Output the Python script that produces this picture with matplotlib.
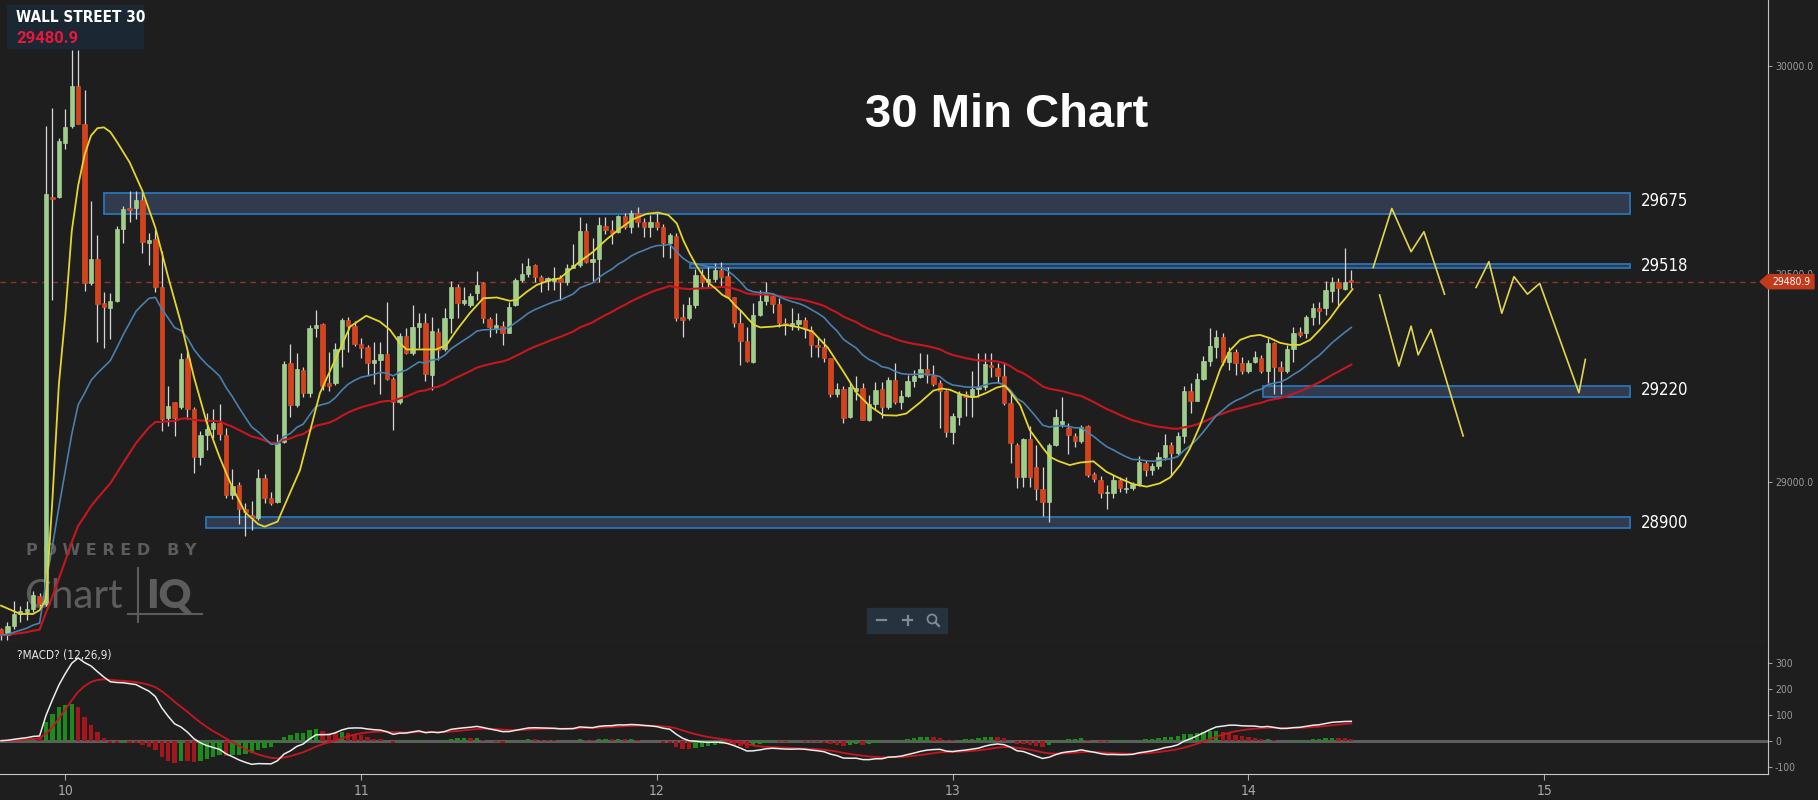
import numpy as np
import pandas as pd
import matplotlib
matplotlib.use("Agg")
import matplotlib.pyplot as plt
from matplotlib.patches import Rectangle, Polygon, Circle
from matplotlib.lines import Line2D
from matplotlib import transforms

W, H = 1818, 800
BG = '#1e1e1e'
plt.rcParams['font.family'] = ['DejaVu Sans']
plt.rcParams['font.stretch'] = 'condensed'

# 30 min candles
opens = [28645, 28631, 28654, 28682, 28686, 28694, 28726, 28705, 29685, 29685,
         29815, 29855, 29952, 29861, 29478, 29535, 29429, 29418, 29434, 29608,
         29658, 29659, 29677, 29574, 29583, 29468, 29154, 29192, 29179, 29298,
         29176, 29059, 29112, 29126, 29142, 29112, 28967, 28993, 28935, 28921,
         28912, 29008, 28960, 28951, 29096, 29285, 29184, 29269, 29214, 29369,
         29379, 29238, 29238, 29318, 29389, 29374, 29331, 29325, 29286, 29293,
         29307, 29246, 29192, 29350, 29310, 29371, 29381, 29256, 29361, 29318,
         29393, 29467, 29429, 29425, 29453, 29477, 29391, 29370, 29374, 29358,
         29425, 29485, 29499, 29520, 29491, 29483, 29483, 29489, 29481, 29515,
         29520, 29603, 29529, 29535, 29615, 29605, 29601, 29639, 29613, 29647,
         29624, 29612, 29624, 29613, 29573, 29591, 29397, 29393, 29426, 29497,
         29479, 29487, 29509, 29495, 29443, 29382, 29339, 29289, 29402, 29434,
         29446, 29427, 29381, 29374, 29379, 29390, 29365, 29329, 29323, 29297,
         29211, 29222, 29155, 29219, 29225, 29148, 29187, 29222, 29179, 29245,
         29191, 29206, 29243, 29251, 29270, 29254, 29237, 29219, 29120, 29156,
         29211, 29204, 29222, 29227, 29281, 29273, 29253, 29189, 29088, 29011,
         29102, 29036, 28982, 28952, 29088, 29139, 29128, 29110, 29099, 29134,
         29019, 29004, 28972, 28974, 29004, 28982, 28986, 28994, 29046, 29027,
         29038, 29060, 29088, 29068, 29110, 29219, 29195, 29246, 29290, 29325,
         29347, 29289, 29313, 29285, 29267, 29289, 29298, 29265, 29334, 29277,
         29265, 29318, 29361, 29357, 29397, 29417, 29417, 29459, 29481, 29463,
         29483]
highs = [28649, 28663, 28714, 28700, 28714, 28737, 28732, 29855, 29898, 29827,
         29895, 30039, 30039, 29942, 29674, 29593, 29455, 29453, 29616, 29664,
         29699, 29699, 29694, 29597, 29604, 29554, 29229, 29192, 29309, 29317,
         29179, 29123, 29165, 29174, 29188, 29128, 29031, 28999, 28949, 28953,
         29031, 29018, 28976, 29114, 29291, 29331, 29310, 29277, 29377, 29414,
         29381, 29313, 29334, 29393, 29397, 29386, 29345, 29329, 29337, 29337,
         29433, 29252, 29357, 29369, 29425, 29405, 29405, 29397, 29369, 29417,
         29483, 29475, 29469, 29453, 29507, 29479, 29395, 29406, 29387, 29431,
         29489, 29527, 29537, 29524, 29497, 29492, 29516, 29497, 29524, 29572,
         29637, 29621, 29587, 29637, 29637, 29629, 29641, 29647, 29653, 29661,
         29633, 29641, 29645, 29620, 29599, 29599, 29427, 29445, 29511, 29511,
         29519, 29525, 29529, 29517, 29445, 29413, 29373, 29429, 29461, 29481,
         29453, 29441, 29393, 29417, 29405, 29397, 29374, 29345, 29345, 29297,
         29237, 29229, 29237, 29253, 29237, 29209, 29240, 29240, 29251, 29285,
         29221, 29257, 29269, 29310, 29307, 29281, 29245, 29221, 29164, 29219,
         29217, 29265, 29310, 29309, 29310, 29285, 29289, 29213, 29092, 29104,
         29134, 29088, 29036, 29094, 29176, 29204, 29140, 29116, 29136, 29136,
         29024, 29014, 28992, 29016, 29012, 29012, 29000, 29062, 29052, 29046,
         29072, 29115, 29096, 29120, 29229, 29237, 29262, 29302, 29369, 29365,
         29358, 29323, 29318, 29301, 29293, 29315, 29305, 29345, 29337, 29291,
         29329, 29371, 29371, 29401, 29429, 29433, 29483, 29493, 29489, 29561,
         29509]
lows = [28619, 28619, 28645, 28663, 28668, 28686, 28700, 28700, 29436, 29683,
        29800, 29850, 29860, 29459, 29473, 29335, 29321, 29344, 29432, 29574,
        29625, 29631, 29549, 29522, 29455, 29123, 29133, 29111, 29174, 29151,
        29022, 29039, 29077, 29105, 29100, 28962, 28958, 28898, 28870, 28884,
        28907, 28949, 28944, 28949, 29092, 29156, 29180, 29204, 29203, 29349,
        29221, 29217, 29232, 29277, 29313, 29326, 29297, 29257, 29235, 29212,
        29245, 29124, 29188, 29308, 29305, 29321, 29241, 29220, 29293, 29315,
        29357, 29393, 29425, 29421, 29437, 29381, 29349, 29358, 29329, 29357,
        29423, 29481, 29491, 29481, 29457, 29461, 29461, 29437, 29473, 29513,
        29516, 29525, 29481, 29481, 29596, 29572, 29597, 29607, 29599, 29613,
        29589, 29588, 29604, 29541, 29537, 29386, 29349, 29390, 29417, 29465,
        29469, 29481, 29469, 29441, 29373, 29281, 29289, 29285, 29398, 29425,
        29405, 29373, 29353, 29365, 29365, 29345, 29301, 29301, 29289, 29204,
        29204, 29140, 29152, 29196, 29148, 29147, 29176, 29152, 29176, 29187,
        29174, 29204, 29227, 29249, 29237, 29229, 29128, 29107, 29091, 29136,
        29158, 29156, 29204, 29220, 29251, 29237, 29185, 29044, 28984, 28988,
        28988, 28956, 28918, 28902, 29086, 29132, 29067, 29083, 29092, 29012,
        29000, 28960, 28934, 28960, 28976, 28972, 28980, 28990, 29014, 29016,
        29030, 29052, 29014, 29064, 29092, 29166, 29193, 29245, 29278, 29297,
        29281, 29269, 29257, 29259, 29261, 29285, 29261, 29237, 29212, 29211,
        29262, 29289, 29347, 29345, 29377, 29379, 29401, 29433, 29425, 29461,
        29465]
closes = [28631, 28654, 28682, 28689, 28694, 28728, 28705, 29691, 29680, 29818,
          29852, 29952, 29861, 29478, 29535, 29427, 29421, 29434, 29608, 29655,
          29653, 29677, 29577, 29582, 29468, 29151, 29183, 29154, 29296, 29174,
          29059, 29112, 29126, 29142, 29114, 28967, 28990, 28935, 28928, 28912,
          29008, 28962, 28950, 29094, 29283, 29184, 29270, 29214, 29369, 29377,
          29229, 29229, 29318, 29390, 29374, 29331, 29321, 29285, 29293, 29307,
          29246, 29192, 29350, 29310, 29373, 29381, 29259, 29363, 29317, 29393,
          29467, 29429, 29438, 29446, 29473, 29393, 29373, 29377, 29358, 29421,
          29485, 29499, 29519, 29493, 29483, 29489, 29489, 29479, 29513, 29520,
          29603, 29529, 29535, 29617, 29604, 29597, 29639, 29613, 29647, 29625,
          29613, 29625, 29613, 29573, 29593, 29394, 29390, 29426, 29497, 29479,
          29487, 29509, 29493, 29443, 29382, 29339, 29291, 29402, 29434, 29453,
          29427, 29381, 29376, 29381, 29390, 29366, 29329, 29323, 29297, 29212,
          29222, 29152, 29227, 29225, 29148, 29187, 29220, 29179, 29245, 29191,
          29206, 29242, 29253, 29270, 29257, 29235, 29219, 29120, 29158, 29211,
          29203, 29222, 29227, 29283, 29275, 29253, 29189, 29092, 29011, 29102,
          29011, 28982, 28952, 29088, 29155, 29147, 29112, 29099, 29131, 29016,
          29006, 28974, 28976, 29004, 28984, 28986, 28994, 29048, 29027, 29038,
          29059, 29088, 29068, 29110, 29219, 29195, 29246, 29290, 29326, 29347,
          29289, 29313, 29286, 29265, 29286, 29299, 29265, 29334, 29275, 29265,
          29318, 29358, 29353, 29395, 29417, 29411, 29461, 29481, 29465, 29481,
          29480.9]

# yellow average (bar position, price)
fast_x = [0, 3, 5, 6, 7, 8, 9, 10, 11, 12, 13, 14, 15, 16, 17, 18, 20, 22, 24, 25,
          26, 28, 30, 32, 34, 36, 38, 40, 41, 43, 46.5, 49.6, 52.2, 54.3, 56.8,
          58.9, 60.5, 62.0, 63.1, 65.2, 67.7, 69.3, 70.9, 72.9, 75.0, 77.1, 79.1,
          80.2, 81.8, 83.3, 85.4, 86.9, 90.0, 92.1, 94.2, 96.3, 98.3, 100.4, 102.2,
          103.8, 105.1, 106.1, 107.1, 108.1, 109.1, 110.1, 111.1, 112.2, 113.2,
          114.1, 115.2, 116.1, 117.1, 118.1, 120.1, 122.1, 124.2, 126.2, 128.6,
          131.0, 133.1, 135.1, 137.2, 139.3, 140.8, 142.9, 145.0, 146.3, 147.6,
          149.1, 150.7, 151.7, 153.3, 154.8, 156.1, 156.9, 158.5, 160.0, 162.1,
          163.1, 164.4, 166.2, 167.8, 169.9, 171.9, 174.0, 176.1, 178.2, 180.2,
          181.8, 183.4, 184.9, 186.5, 188.0, 189.6, 191.1, 192.7, 194.3, 195.8,
          197.4, 198.9, 200.5, 202.0, 203.6, 205.1, 206.7, 208.2, 209.3, 210.2]
fast_y = [28702, 28682, 28682, 28691, 28718, 28958, 29234, 29400, 29602, 29712,
          29786, 29832, 29850, 29852, 29841, 29818, 29768, 29699, 29611, 29551,
          29492, 29381, 29252, 29142, 29059, 28985, 28926, 28898, 28892, 28904,
          29028, 29213, 29301, 29373, 29399, 29385, 29365, 29333, 29318, 29318,
          29318, 29329, 29365, 29405, 29441, 29443, 29435, 29437, 29457, 29473,
          29485, 29489, 29529, 29553, 29583, 29609, 29631, 29644, 29647, 29641,
          29621, 29581, 29549, 29521, 29497, 29477, 29465, 29449, 29441, 29425,
          29409, 29393, 29377, 29371, 29373, 29377, 29371, 29361, 29322, 29265,
          29213, 29182, 29160, 29159, 29164, 29190, 29219, 29224, 29221, 29211,
          29204, 29204, 29214, 29226, 29231, 29217, 29184, 29124, 29080, 29060,
          29050, 29040, 29046, 29049, 29024, 29008, 28994, 28988, 28996, 29010,
          29040, 29080, 29136, 29200, 29270, 29315, 29341, 29350, 29353, 29345,
          29334, 29329, 29329, 29341, 29365, 29393, 29425, 29445, 29463]

last_price = 29480.9
day_labels = ['10', '11', '12', '13', '14', '15']
day_bars = [10, 56, 102, 148, 194, 240]

# support / resistance zones
levels = [29675, 29518, 29220, 28900]
level_top = [29695, 29523, 29230, 28916]
level_bot = [29643, 29513, 29203, 28889]
level_start = [16.0, 107.2, 196.3, 31.9]
level_end = 253.3

# hand drawn projection paths (bar, price)
proj_a_x = [213.4, 216.3, 219.3, 221.3, 224.5]
proj_a_y = [29515, 29657, 29553, 29601, 29451]
proj_b_x = [214.4, 217.4, 219.3, 220.4, 222.4, 227.4]
proj_b_y = [29449, 29278, 29374, 29305, 29366, 29110]
proj_c_x = [229.4, 231.4, 233.4, 235.3, 237.4, 239.3, 245.4, 246.4]
proj_c_y = [29467, 29529, 29405, 29493, 29451, 29477, 29214, 29294]

price_ticks = [29000, 29500, 30000]
macd_ticks = [-100, 0, 100, 200, 300]


def ema(v, span):
    return pd.Series(v, dtype=float).ewm(span=span, adjust=False).mean().values


o = np.array(opens, float)
h = np.array(highs, float)
l = np.array(lows, float)
c = np.array(closes, float)
idx = np.arange(len(c))

ma_mid = ema(c, 20)
ma_slow = ema(c, 50)
macd = ema(c, 12) - ema(c, 26)
signal = ema(macd, 9)
hist = macd - signal


def fx(px):
    return px / W


def fy(py):
    return 1 - py / H


BAR_PX = 6.43
x_lo, x_hi = -1 / BAR_PX, 1767 / BAR_PX

fig = plt.figure(figsize=(W / 100, H / 100), dpi=100, facecolor=BG)

# ---------------- price panel ----------------
ax = fig.add_axes([0, fy(642), 1768 / W, 642 / H])
ax.set_facecolor(BG)

ax.axhline(last_price, color='#86392b', lw=1, ls=(0, (4, 3.5)), zorder=1)

for lv, top, bot, x0 in zip(levels, level_top, level_bot, level_start):
    ax.add_patch(Rectangle((x0, bot), level_end - x0, top - bot,
                           facecolor='#313b4d', edgecolor='#2a74b8', lw=1.3, zorder=2))

up = c >= o
body_lo = np.minimum(o, c)
body_h = np.maximum(np.abs(c - o), 4)
ax.vlines(idx, l, h, colors='#d6d6d6', lw=0.9, zorder=3)
ax.bar(idx[up], body_h[up], bottom=body_lo[up], width=0.68,
       color='#9dcf88', edgecolor='#b5dca2', lw=0.4, zorder=4)
ax.bar(idx[~up], body_h[~up], bottom=body_lo[~up], width=0.68,
       color='#d8421b', edgecolor='#e0552f', lw=0.4, zorder=4)

ax.plot(idx, ma_slow, color='#c8161f', lw=1.5, zorder=5)
ax.plot(idx, ma_mid, color='#4a7fae', lw=1.2, zorder=5)
ax.plot(fast_x, fast_y, color='#e4d62a', lw=1.3, zorder=6)

for px_, py_ in [(proj_a_x, proj_a_y), (proj_b_x, proj_b_y), (proj_c_x, proj_c_y)]:
    ax.plot(px_, py_, color='#e2d550', lw=1.2, zorder=6)

mix = transforms.blended_transform_factory(ax.transAxes, ax.transData)
for lv in levels:
    ax.text(1641 / 1768, lv, str(lv), transform=mix, color='white', fontsize=12,
            va='center', ha='left', zorder=7)

ax.set_xlim(x_lo, x_hi)
ax.set_ylim(28614.6, 30158.2)
ax.set_xticks([])
ax.yaxis.tick_right()
ax.set_yticks(price_ticks)
ax.set_yticklabels([f'{t:.1f}' for t in price_ticks])
ax.tick_params(axis='y', colors='#9a9a9a', labelsize=7.5, length=3, pad=2)
for side in ['left', 'top']:
    ax.spines[side].set_visible(False)
ax.spines['right'].set_color('#c4c4c4')
ax.spines['bottom'].set_color('#6e6e6e')

# current price tag on the axis
dy = 17
tag = Polygon([(1760 / 1768, last_price), (1.0, last_price + dy), (1.026, last_price + dy),
               (1.026, last_price - dy), (1.0, last_price - dy)],
              closed=True, transform=mix, color='#c23a1c', clip_on=False, zorder=10)
ax.add_patch(tag)
ax.text(1.0135, last_price, f'{last_price:.1f}', transform=mix, color='white',
        fontsize=7.5, ha='center', va='center', clip_on=False, zorder=11)

# ChartIQ watermark
wm = '#5c5c5c'
ax.text(fx(26), fy(555), 'P O W E R E D   B Y', transform=fig.transFigure, color=wm,
        fontsize=11.5, weight='bold', stretch='normal', va='baseline', zorder=1.5)
ax.text(fx(24), fy(608), 'Chart', transform=fig.transFigure, color=wm,
        fontsize=29, weight='normal', family=['Lato', 'DejaVu Sans'], stretch='normal',
        va='baseline', zorder=1.5)
ax.text(fx(146), fy(608), 'IQ', transform=fig.transFigure, color=wm,
        fontsize=29, weight='heavy', family=['Lato', 'DejaVu Sans'], stretch='normal',
        va='baseline', zorder=1.5)
ax.add_artist(Line2D([fx(138), fx(138)], [fy(568), fy(622)], transform=fig.transFigure,
                     color=wm, lw=1.5, zorder=1.5))
ax.add_artist(Line2D([fx(128), fx(202)], [fy(614), fy(614)], transform=fig.transFigure,
                     color=wm, lw=1.5, zorder=1.5))

# ---------------- MACD panel ----------------
ax2 = fig.add_axes([0, fy(774), 1768 / W, 132 / H], sharex=ax)
ax2.set_facecolor(BG)
ax2.axhline(0, color='#5e5e5e', lw=2.2, zorder=1)
rising = np.r_[True, np.diff(hist) >= 0]
ax2.bar(idx, hist, width=0.68, color=np.where(rising, '#1d8a1d', '#a3161b'), zorder=2)
ax2.plot(idx, signal, color='#c8161f', lw=1.3, zorder=3)
ax2.plot(idx, macd, color='#ececec', lw=1.1, zorder=4)
ax2.set_ylim(-129, 382.6)
ax2.set_xlim(x_lo, x_hi)
ax2.yaxis.tick_right()
ax2.set_yticks(macd_ticks)
ax2.set_yticklabels([str(t) for t in macd_ticks])
ax2.tick_params(axis='y', colors='#9a9a9a', labelsize=7.5, length=3, pad=2)
ax2.set_xticks(day_bars)
ax2.set_xticklabels(day_labels)
ax2.tick_params(axis='x', colors='#a8a8a8', labelsize=10, length=4, pad=3)
for side in ['left', 'top']:
    ax2.spines[side].set_visible(False)
ax2.spines['right'].set_color('#c4c4c4')
ax2.spines['bottom'].set_color('#c8c8c8')
ax2.text(17 / 1768, (774 - 655) / 132, '?MACD? (12,26,9)', transform=ax2.transAxes,
         color='#e6e6e6', fontsize=8.5, va='center', ha='left')

# ---------------- overlays ----------------
fig.patches.append(Rectangle((fx(7), fy(48)), 136 / W, 43 / H, transform=fig.transFigure,
                             color='#1b2733', zorder=1))
fig.text(fx(16), fy(22), 'WALL STREET 30', color='white', fontsize=11, weight='bold',
         va='baseline', zorder=3)
fig.text(fx(16), fy(43), f'{last_price:.1f}', color='#e8173d', fontsize=12, weight='bold',
         family=['Roboto', 'DejaVu Sans'], stretch='normal', va='baseline', zorder=3)

fig.text(fx(1006.5), fy(127), '30 Min Chart', color='white', fontsize=34, weight='bold',
         family=['Liberation Sans', 'DejaVu Sans'], stretch='normal', ha='center',
         va='baseline', zorder=3)

# zoom widget
fig.patches.append(Rectangle((fx(867), fy(633)), 80 / W, 25 / H, transform=fig.transFigure,
                             color='#26323e', zorder=1))
ic = '#7d8b99'
fig.add_artist(Line2D([fx(877), fx(886)], [fy(620), fy(620)], transform=fig.transFigure,
                      color=ic, lw=1.6, zorder=3))
fig.add_artist(Line2D([fx(903), fx(912)], [fy(620), fy(620)], transform=fig.transFigure,
                      color=ic, lw=1.6, zorder=3))
fig.add_artist(Line2D([fx(907.5), fx(907.5)], [fy(615.5), fy(624.5)], transform=fig.transFigure,
                      color=ic, lw=1.6, zorder=3))
fig.add_artist(Circle((932, H - 619), 4.5, transform=transforms.IdentityTransform(),
                      fill=False, edgecolor=ic, lw=1.3, zorder=3))
fig.add_artist(Line2D([fx(935.5), fx(939)], [fy(622.5), fy(626)], transform=fig.transFigure,
                      color=ic, lw=1.6, zorder=3))

fig.savefig('out.png', dpi=100, facecolor=BG)
